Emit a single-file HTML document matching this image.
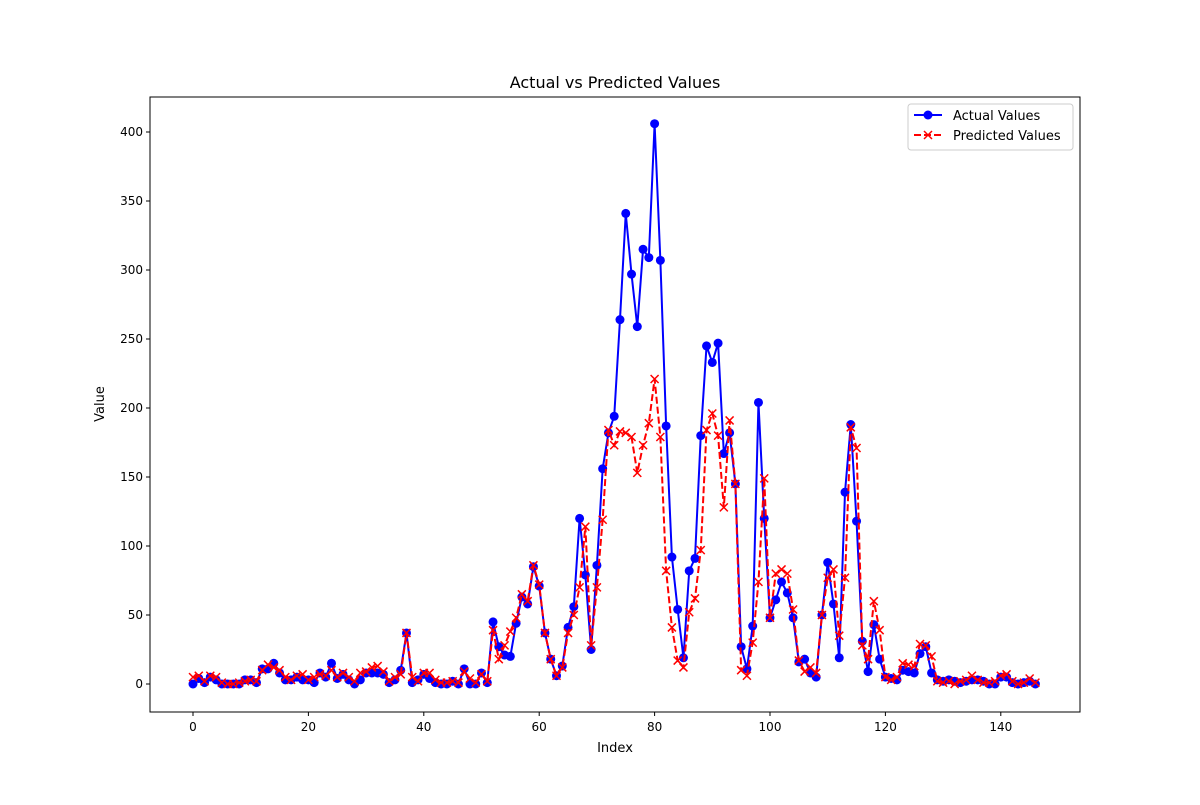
<!DOCTYPE html>
<html><head><meta charset="utf-8"><style>body{margin:0;background:#fff}svg{font-family:"DejaVu Sans","Liberation Sans",sans-serif}</style></head>
<body>
<svg id="c" width="1200" height="800" xmlns="http://www.w3.org/2000/svg"></svg>
<script>
const actual=[0,4,1,5,3,0,0,0,0,3,3,1,11,11,15,8,3,3,5,3,3,1,8,5,15,4,7,3,0,3,8,8,8,7,1,3,10,37,1,3,7,4,1,0,0,2,0,11,0,0,8,1,45,27,21,20,44,63,58,85,71,37,18,6,13,41,56,120,79,25,86,156,182,194,264,341,297,259,315,309,406,307,187,92,54,19,82,91,180,245,233,247,167,182,145,27,11,42,204,120,48,61,74,66,48,16,18,8,5,50,88,58,19,139,188,118,31,9,43,18,5,4,3,10,9,8,22,27,8,3,2,3,2,1,2,3,3,2,0,0,5,5,1,0,1,2,0];
const predicted=[5,6,2,6,5,1,0,0,1,2,3,2,10,14,12,10,5,3,6,7,3,5,7,6,10,5,8,5,2,8,9,12,13,9,2,5,7,37,5,2,8,8,3,1,1,2,1,9,4,1,7,2,39,18,28,38,48,65,60,86,72,37,18,6,12,37,50,70,114,28,70,119,184,173,183,182,179,153,173,189,221,179,82,41,17,12,52,62,97,184,196,180,128,191,145,10,6,30,74,149,48,80,83,80,54,17,9,12,8,50,77,83,35,77,186,171,28,18,60,39,5,3,5,15,14,13,29,28,20,2,1,2,0,2,3,6,3,1,1,2,6,7,2,0,1,4,1];
const xTicks=[0,20,40,60,80,100,120,140];
const yTicks=[0,50,100,150,200,250,300,350,400];
const NS="http://www.w3.org/2000/svg",svg=document.getElementById('c');
const L=150,R=1080,T=97,B=712;
const xs=v=>193+v*5.77, ys=v=>684-v*1.38;
function el(t,a,p){const e=document.createElementNS(NS,t);for(const k in a)e.setAttribute(k,a[k]);(p||svg).appendChild(e);return e;}
const title=el('text',{x:615,y:88,'text-anchor':'middle','font-size':16});title.textContent='Actual vs Predicted Values';


const frame=el('rect',{x:L,y:T,width:R-L,height:B-T,fill:'none',stroke:'#000','stroke-width':1});


xTicks.forEach(t=>{const x=xs(t);el('line',{x1:x,x2:x,y1:B,y2:B+4,stroke:'#000'});const tx=el('text',{x:x,y:B+19,'text-anchor':'middle','font-size':12});tx.textContent=t;

});
yTicks.forEach(t=>{const y=ys(t);el('line',{x1:L-4,x2:L,y1:y,y2:y,stroke:'#000'});const tx=el('text',{x:L-7,y:y+4,'text-anchor':'end','font-size':12});tx.textContent=t;

});
const xl=el('text',{x:615,y:752,'text-anchor':'middle','font-size':13});xl.textContent='Index';


const yl=el('text',{x:104,y:404,'text-anchor':'middle','font-size':13,transform:'rotate(-90 104 404)'});yl.textContent='Value';


const pa=actual.map((v,i)=>xs(i)+','+ys(v)).join(' ');
const la=el('polyline',{points:pa,fill:'none',stroke:'#0000ff','stroke-width':2});


actual.forEach((v,i)=>{const c=el('circle',{cx:xs(i),cy:ys(v),r:4.5,fill:'#0000ff'});

});
const pp=predicted.map((v,i)=>xs(i)+','+ys(v)).join(' ');
const lp=el('polyline',{points:pp,fill:'none',stroke:'#ff0000','stroke-width':2,'stroke-dasharray':'7,3'});


predicted.forEach((v,i)=>{const x=xs(i),y=ys(v);const g=el('path',{d:`M${x-4},${y-4}L${x+4},${y+4}M${x-4},${y+4}L${x+4},${y-4}`,stroke:'#ff0000','stroke-width':1.5});

});
const lg=el('g',{});


el('rect',{x:908,y:104,width:165,height:46,rx:3,fill:'#fff',stroke:'#ccc'},lg);
el('line',{x1:914,x2:942,y1:115,y2:115,stroke:'#0000ff','stroke-width':2},lg);
el('circle',{cx:928,cy:115,r:4.5,fill:'#0000ff'},lg);
const t1=el('text',{x:953,y:120,'font-size':13},lg);t1.textContent='Actual Values';
el('line',{x1:914,x2:942,y1:135,y2:135,stroke:'#ff0000','stroke-width':2,'stroke-dasharray':'7,3'},lg);
el('path',{d:'M924,131L932,139M924,139L932,131',stroke:'#ff0000','stroke-width':1.5},lg);
const t2=el('text',{x:953,y:140,'font-size':13},lg);t2.textContent='Predicted Values';
</script>
</body></html>
